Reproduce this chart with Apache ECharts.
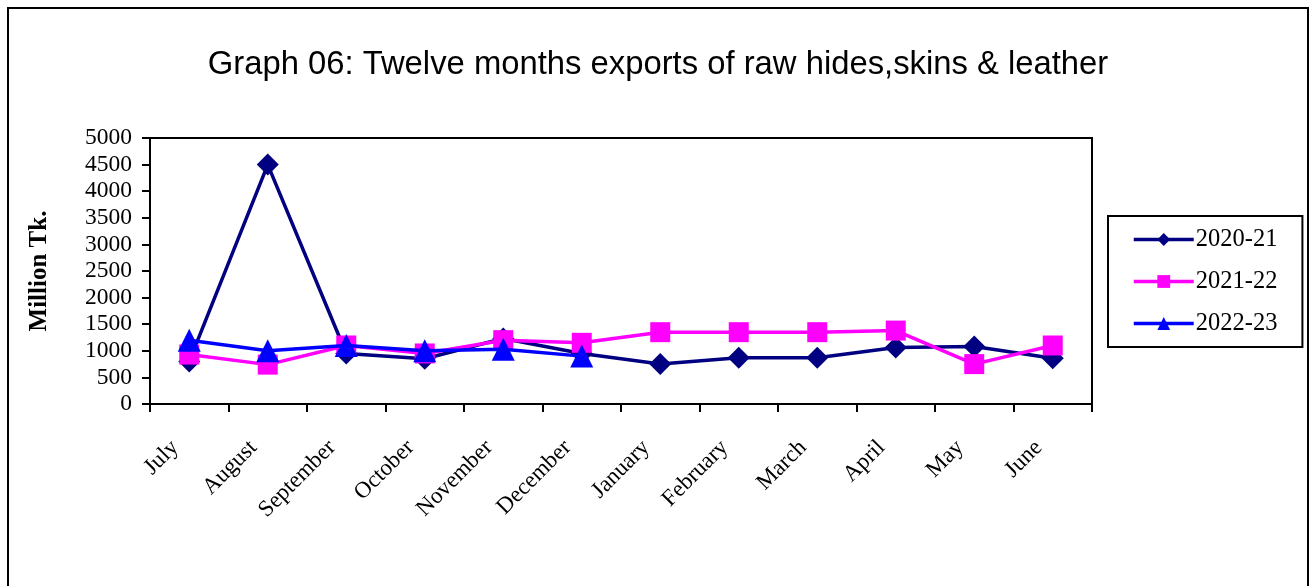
<!DOCTYPE html>
<html><head><meta charset="utf-8">
<script src="https://cdn.jsdelivr.net/npm/echarts@6/dist/echarts.min.js"></script>
<style>html,body{margin:0;padding:0;background:#fff}#c{width:1316px;height:586px}</style>
</head><body><div id="c"></div>
<script>
const categories = ["July","August","September","October","November","December","January","February","March","April","May","June"];
const s2020_21 = [800,4500,950,850,1230,950,750,870,870,1060,1080,860];
const s2021_22 = [930,740,1100,950,1200,1150,1350,1350,1350,1380,750,1100];
const s2022_23 = [1200,1000,1100,1000,1030,900,null,null,null,null,null,null];
const yTicks = [0,500,1000,1500,2000,2500,3000,3500,4000,4500,5000];

const chart = echarts.init(document.getElementById('c'));
const serif = '"Liberation Serif","DejaVu Serif",serif';
chart.setOption({
  animation:false,
  backgroundColor:'#fff',
  title:{text:'Graph 06: Twelve months exports of raw hides,skins & leather',left:'center',top:43,
    textStyle:{fontFamily:'"Liberation Sans",Arial,sans-serif',fontSize:32.8,fontWeight:'normal',color:'#000'}},
  graphic:[{type:'rect',shape:{x:8,y:8,width:1300,height:590},style:{fill:'none',stroke:'#000',lineWidth:2},z:-1}],
  legend:{orient:'vertical',left:1108,top:216,padding:[11,25,11,24],itemGap:17,
    borderColor:'#000',borderWidth:2,itemWidth:60,itemHeight:16,
    lineStyle:{width:3.5},
    textStyle:{fontFamily:serif,fontSize:24.5,color:'#000',padding:[0,0,0,-3]},
    data:['2020-21','2021-22','2022-23']},
  grid:{left:150,right:224,top:138,bottom:182,show:true,borderColor:'#000',borderWidth:2},
  xAxis:{type:'category',data:categories,boundaryGap:true,
    axisLine:{lineStyle:{color:'#000',width:2}},
    axisTick:{show:true,length:8,lineStyle:{color:'#000',width:2},alignWithLabel:false},
    axisLabel:{rotate:45,fontFamily:serif,fontSize:23,color:'#000',margin:26,interval:0,padding:[0,20,0,0]},
    splitLine:{show:false}},
  yAxis:{type:'value',min:0,max:5000,interval:500,name:'Million Tk.',nameLocation:'middle',nameGap:98,
    nameTextStyle:{fontFamily:serif,fontSize:25,fontWeight:'bold',color:'#000'},
    axisLine:{show:true,lineStyle:{color:'#000',width:2}},
    axisTick:{show:true,length:8,lineStyle:{color:'#000',width:2}},
    axisLabel:{fontFamily:serif,fontSize:23.5,color:'#000',margin:18,
      formatter:v=>yTicks.includes(v)?String(v):''},
    splitLine:{show:false}},
  series:[
    {name:'2020-21',type:'line',data:s2020_21,symbol:'diamond',symbolSize:22,
      lineStyle:{color:'#000080',width:3.5},itemStyle:{color:'#000080'},z:1},
    {name:'2021-22',type:'line',data:s2021_22,symbol:'rect',symbolSize:20,
      lineStyle:{color:'#FF00FF',width:3.5},itemStyle:{color:'#FF00FF'},z:2},
    {name:'2022-23',type:'line',data:s2022_23,symbol:'triangle',symbolSize:23,
      lineStyle:{color:'#0000FF',width:3.5},itemStyle:{color:'#0000FF'},z:3}
  ]
});
</script></body></html>
